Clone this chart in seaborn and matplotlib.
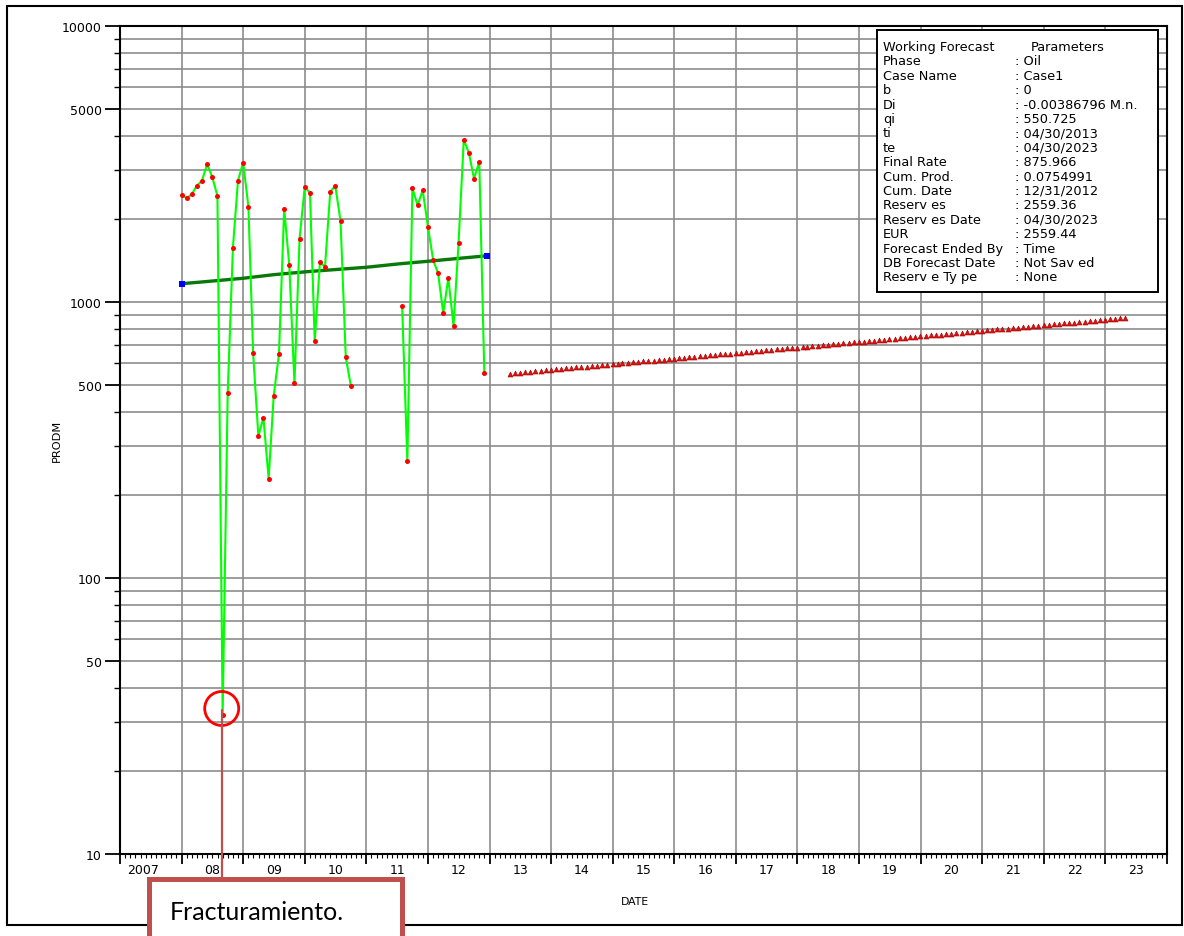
import numpy as np
import pandas as pd
import matplotlib
matplotlib.use("Agg")
import matplotlib.pyplot as plt
from matplotlib.patches import Rectangle, Ellipse
from matplotlib.lines import Line2D
from matplotlib.ticker import FixedLocator, FixedFormatter
import seaborn as sns

# ---- monthly oil rate history (two producing periods) ----
seg1_start = "2008-01-01"
seg1_rate = [2436, 2382, 2455, 2639, 2751, 3162, 2838, 2427, 32, 467,
             1573, 2751, 3196, 2215, 652, 327, 381, 229, 458, 646,
             2178, 1365, 507, 1692, 2617, 2483, 720, 1393, 1343, 2510,
             2633, 1966, 632, 497]
seg2_start = "2011-08-01"
seg2_rate = [967, 265, 2582, 2241, 2539, 1875, 1419, 1274, 912, 1222,
             820, 1640, 3873, 3457, 2797, 3224, 553]

# ---- trend line through the history ----
trend_dates = ["2008-01-01", "2008-05-01", "2009-01-01", "2009-07-01",
               "2010-01-15", "2011-01-01", "2011-07-15", "2012-02-01",
               "2012-07-01", "2012-12-15"]
trend_rate = [1165, 1182, 1219, 1256, 1288, 1336, 1375, 1410, 1439, 1470]

# ---- monthly forecast, 04/30/2013 -> 04/30/2023 ----
forecast_start = "2013-04-30"
forecast_rate = [
    550.7, 552.9, 555.0, 557.2, 559.3, 561.5, 563.7, 565.8, 568.0, 570.2, 572.4, 574.7,
    576.9, 579.1, 581.4, 583.6, 585.9, 588.2, 590.4, 592.7, 595.0, 597.3, 599.6, 602.0,
    604.3, 606.6, 609.0, 611.4, 613.7, 616.1, 618.5, 620.9, 623.3, 625.7, 628.1, 630.6,
    633.0, 635.5, 637.9, 640.4, 642.9, 645.4, 647.9, 650.4, 652.9, 655.4, 658.0, 660.5,
    663.1, 665.7, 668.2, 670.8, 673.4, 676.0, 678.7, 681.3, 683.9, 686.6, 689.2, 691.9,
    694.6, 697.3, 700.0, 702.7, 705.4, 708.1, 710.9, 713.6, 716.4, 719.2, 722.0, 724.8,
    727.6, 730.4, 733.2, 736.1, 738.9, 741.8, 744.7, 747.6, 750.5, 753.4, 756.3, 759.2,
    762.2, 765.1, 768.1, 771.0, 774.0, 777.0, 780.0, 783.1, 786.1, 789.2, 792.2, 795.3,
    798.4, 801.5, 804.6, 807.7, 810.8, 814.0, 817.1, 820.3, 823.5, 826.6, 829.8, 833.1,
    836.3, 839.5, 842.8, 846.1, 849.3, 852.6, 855.9, 859.2, 862.6, 865.9, 869.3, 872.6,
    876.0]

year_labels = ["2007", "08", "09", "10", "11", "12", "13", "14", "15",
               "16", "17", "18", "19", "20", "21", "22", "23"]
first_year = 2007
y_major = [10, 50, 100, 500, 1000, 5000, 10000]

param_names = ["Working Forecast", "Phase", "Case Name", "b", "Di", "qi", "ti", "te",
               "Final Rate", "Cum. Prod.", "Cum. Date", "Reserv es", "Reserv es Date",
               "EUR", "Forecast Ended By", "DB Forecast Date", "Reserv e Ty pe"]
param_values = ["Parameters", ": Oil", ": Case1", ": 0", ": -0.00386796 M.n.",
                ": 550.725", ": 04/30/2013", ": 04/30/2023", ": 875.966",
                ": 0.0754991", ": 12/31/2012", ": 2559.36", ": 04/30/2023",
                ": 2559.44", ": Time", ": Not Sav ed", ": None"]

note_text = "Fracturamiento."


def decimal_year(dates):
    d = pd.DatetimeIndex(dates)
    days = np.where(d.is_leap_year, 366.0, 365.0)
    return d.year + (d.dayofyear - 1) / days


hist = pd.concat([
    pd.DataFrame({"t": decimal_year(pd.date_range(seg1_start, periods=len(seg1_rate), freq="MS")),
                  "rate": seg1_rate, "segment": 1}),
    pd.DataFrame({"t": decimal_year(pd.date_range(seg2_start, periods=len(seg2_rate), freq="MS")),
                  "rate": seg2_rate, "segment": 2}),
], ignore_index=True)
trend = pd.DataFrame({"t": decimal_year(trend_dates), "rate": trend_rate})
fcst = pd.DataFrame({"t": decimal_year(pd.date_range(forecast_start, periods=len(forecast_rate), freq="ME")),
                     "rate": forecast_rate})

sns.set_style("white")
plt.rcParams["font.family"] = ["DejaVu Sans"]
plt.rcParams["text.color"] = "black"
plt.rcParams["xtick.color"] = "black"
plt.rcParams["ytick.color"] = "black"

W, H = 1184, 937
fig = plt.figure(figsize=(W / 100, H / 100), dpi=100)
fig.patch.set_facecolor("white")


def fx(px):
    return px / W


def fy(py):
    return 1 - py / H


ax = fig.add_axes([fx(120), fy(855), fx(1167) - fx(120), fy(27) - fy(855)])
ax.set_yscale("log")
ax.set_xlim(first_year, first_year + len(year_labels))
ax.set_ylim(10, 10000)

# trend line with end markers
sns.lineplot(data=trend, x="t", y="rate", color="#087808", lw=2.4, ax=ax, zorder=3)
sns.scatterplot(data=trend.iloc[[0, -1]], x="t", y="rate", marker="s", color="#0000FF",
                s=22, linewidth=0, ax=ax, zorder=6)

# history
sns.lineplot(data=hist, x="t", y="rate", units="segment", estimator=None, sort=False,
             color="#00FF00", lw=1.5, ax=ax, zorder=4)
sns.scatterplot(data=hist, x="t", y="rate", color="#FF0000", s=13, linewidth=0,
                ax=ax, zorder=5)

# forecast
sns.scatterplot(data=fcst, x="t", y="rate", marker="^", color="#E01010",
                edgecolor="#A00000", linewidth=0.4, s=13, ax=ax, zorder=5)

# y axis ticks and grid
minor_y = [m * 10 ** e for e in range(1, 4) for m in range(1, 10)
           if m * 10 ** e not in y_major]
ax.yaxis.set_major_locator(FixedLocator(y_major))
ax.yaxis.set_major_formatter(FixedFormatter([str(v) for v in y_major]))
ax.yaxis.set_minor_locator(FixedLocator(minor_y))
ax.yaxis.set_minor_formatter(FixedFormatter([""] * len(minor_y)))

# x axis: year boundaries as major ticks, months as minor ticks
years = np.arange(first_year, first_year + len(year_labels) + 1)
months = [y + m / 12 for y in years[:-1] for m in range(1, 12)]
ax.xaxis.set_major_locator(FixedLocator(years))
ax.xaxis.set_major_formatter(FixedFormatter([""] * len(years)))
ax.xaxis.set_minor_locator(FixedLocator(months))
ax.xaxis.set_minor_formatter(FixedFormatter([""] * len(months)))

ax.tick_params(which="both", left=True, bottom=True, top=False, right=False)
ax.tick_params(axis="y", which="major", direction="out", length=11, width=1.3,
               labelsize=9, pad=2, color="black", labelcolor="black")
ax.tick_params(axis="y", which="minor", direction="out", length=4.5, width=1.0, color="black")
ax.tick_params(axis="x", which="major", direction="out", length=7.5, width=1.3, color="black")
ax.tick_params(axis="x", which="minor", direction="out", length=3.0, width=0.8, color="black")

ax.grid(True, which="major", axis="both", color="#8C8C8C", lw=1.2)
ax.grid(True, which="minor", axis="y", color="#8C8C8C", lw=1.2)
ax.set_axisbelow(True)
for s in ax.spines.values():
    s.set_color("black")
    s.set_linewidth(1.5)
    s.set_visible(True)

for i, lab in enumerate(year_labels):
    xc = first_year + i + (0.37 if i == 0 else 0.5)
    ax.text(xc, -16 / 828, lab, transform=ax.get_xaxis_transform(), ha="center",
            va="center", fontsize=9, color="black")

ax.set_xlabel("")
ax.set_ylabel("")
fig.text(fx(635), fy(902), "DATE", ha="center", va="center", fontsize=7.8, color="black")
fig.text(fx(57), fy(441), "PRODM", ha="center", va="center", rotation=90,
         fontsize=8.2, color="black")

# outer frame
fig.add_artist(Rectangle((fx(7), fy(926)), fx(1182) - fx(7), fy(7) - fy(926),
                         transform=fig.transFigure, fill=False, ec="black", lw=1.5, zorder=2))

# forecast parameter table
fig.add_artist(Rectangle((fx(877), fy(293)), fx(1158) - fx(877), fy(31) - fy(293),
                         transform=fig.transFigure, fc="white", ec="black", lw=1.4, zorder=5))
for i, (name, val) in enumerate(zip(param_names, param_values)):
    yy = 47.5 + i * 14.4
    fig.text(fx(883), fy(yy), name, ha="left", va="center", fontsize=9.3,
             color="black", zorder=6)
    xv = 1031 if i == 0 else 1015
    fig.text(fx(xv), fy(yy), val, ha="left", va="center", fontsize=9.3,
             color="black", zorder=6)

# callout on the low month
fig.add_artist(Ellipse((fx(221.7), fy(709.5)), 34 / W, 34 / H, transform=fig.transFigure,
                       fill=False, ec="#FF0000", lw=2.0, zorder=7))
fig.add_artist(Line2D([fx(221.7), fx(221.7)], [fy(711), fy(880)], transform=fig.transFigure,
                      color="#C0504D", lw=1.6, zorder=7))
fig.add_artist(Rectangle((fx(148.5), fy(960)), fx(401.5) - fx(148.5), fy(880) - fy(960),
                         transform=fig.transFigure, fc="white", ec="#C0504D", lw=3.6,
                         zorder=8, clip_on=False))
fig.text(fx(170), fy(913), note_text, ha="left", va="center", fontsize=18,
         family=["Lato", "DejaVu Sans"], color="black", zorder=9)

fig.savefig("out.png", dpi=100)
